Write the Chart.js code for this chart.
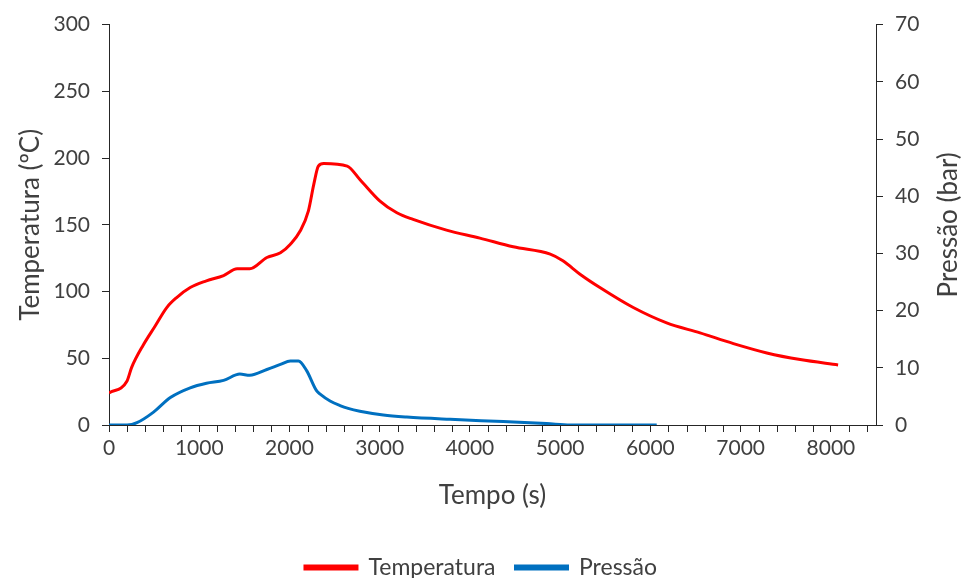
<!DOCTYPE html>
<html>
<head>
<meta charset="utf-8">
<script src="https://cdn.jsdelivr.net/npm/chart.js@4.4.1/dist/chart.umd.min.js"></script>
<style>
  html, body { margin: 0; padding: 0; background: #fff; }
  #wrap { width: 962px; height: 578px; }
</style>
</head>
<body>
<div id="wrap"><canvas id="chart"></canvas></div>
<script>
// tempo (s) e temperatura (ºC)
const tempoT = [0, 200, 250, 380, 510, 640, 750, 900, 1080, 1270, 1420, 1560, 1750, 1900, 2010, 2120, 2210, 2270, 2320, 2380, 2640, 2780, 3000, 3190, 3370, 3740, 4110, 4480, 4890, 5030, 5220, 5440, 5810, 6180, 6550, 6920, 7290, 7660, 8080];
const temperatura = [24, 33, 43, 60, 74, 88, 95.5, 103, 108, 112, 117, 117, 125.5, 129, 135.5, 145.5, 160.5, 180.5, 194, 196, 194, 184, 168, 159, 154, 146, 140, 133.5, 128, 123, 113, 103, 88, 76.5, 69, 61, 54, 49, 45];

// tempo (s) e pressão (bar)
const tempoP = [0, 200, 310, 490, 680, 900, 1080, 1270, 1450, 1560, 1750, 1900, 2010, 2100, 2190, 2300, 2340, 2450, 2560, 2650, 2780, 3040, 3300, 3780, 4370, 4850, 5110, 6070];
const pressao = [0, 0, 0.4, 2.2, 4.8, 6.5, 7.3, 7.8, 8.9, 8.7, 9.7, 10.6, 11.2, 11.2, 9.5, 6.0, 5.4, 4.2, 3.4, 2.9, 2.4, 1.75, 1.4, 1.0, 0.6, 0.25, 0, 0];

const xTicks = [0, 1000, 2000, 3000, 4000, 5000, 6000, 7000, 8000];
const tempTicks = [0, 50, 100, 150, 200, 250, 300];
const presTicks = [0, 10, 20, 30, 40, 50, 60, 70];

const FONT = "Lato, 'Noto Sans', sans-serif";
const TXT = "#404040";
const AXIS = "#262626";
const TICK_SIZE = 21;
const TITLE_SIZE = 26;

const toPoints = (xs, ys) => xs.map((x, i) => ({ x: x, y: ys[i] }));

// minor ticks on the x axis + right-hand title (reads bottom to top)
const extras = {
  id: "extras",
  afterDraw(chart) {
    const ctx = chart.ctx;
    const x = chart.scales.x;
    ctx.save();
    ctx.strokeStyle = AXIS;
    ctx.lineWidth = 1;
    for (let v = 200; v < x.max; v += 200) {
      if (v % 1000 === 0) continue;
      const px = Math.round(x.getPixelForValue(v)) + 0.5;
      ctx.beginPath();
      ctx.moveTo(px, x.top);
      ctx.lineTo(px, x.top + 7);
      ctx.stroke();
    }
    const y2 = chart.scales.y2;
    ctx.fillStyle = TXT;
    ctx.font = TITLE_SIZE + "px " + FONT;
    ctx.textAlign = "center";
    ctx.textBaseline = "middle";
    ctx.translate(949, (y2.top + y2.bottom) / 2);
    ctx.rotate(-Math.PI / 2);
    ctx.fillText("Pressão (bar)", 0, 0);
    ctx.restore();
  }
};

new Chart(document.getElementById("chart"), {
  type: "line",
  data: {
    datasets: [
      {
        label: "Temperatura",
        data: toPoints(tempoT, temperatura),
        borderColor: "#FF0000",
        backgroundColor: "#FF0000",
        borderWidth: 3,
        pointRadius: 0,
        cubicInterpolationMode: "monotone",
        yAxisID: "y"
      },
      {
        label: "Pressão",
        data: toPoints(tempoP, pressao),
        borderColor: "#0070C0",
        backgroundColor: "#0070C0",
        borderWidth: 3,
        pointRadius: 0,
        cubicInterpolationMode: "monotone",
        yAxisID: "y2"
      }
    ]
  },
  options: {
    responsive: true,
    maintainAspectRatio: false,
    animation: false,
    layout: { padding: { top: 24, right: 0, bottom: -11, left: 0 } },
    scales: {
      x: {
        type: "linear",
        min: 0,
        max: 8500,
        afterBuildTicks: s => { s.ticks = xTicks.map(v => ({ value: v })); },
        afterFit: s => { s.height = 111; },
        grid: { drawOnChartArea: false, tickLength: 7, color: AXIS },
        border: { color: AXIS, width: 1 },
        ticks: { color: TXT, font: { family: FONT, size: TICK_SIZE }, padding: 4, maxRotation: 0, callback: v => String(v) },
        title: { display: true, text: "Tempo (s)", color: TXT, font: { family: FONT, size: TITLE_SIZE }, padding: { top: 0, bottom: 25 } }
      },
      y: {
        position: "left",
        min: 0,
        max: 300,
        afterBuildTicks: s => { s.ticks = tempTicks.map(v => ({ value: v })); },
        afterFit: s => { s.width = 109; },
        grid: { drawOnChartArea: false, tickLength: 7, color: AXIS },
        border: { color: AXIS, width: 1 },
        ticks: { color: TXT, font: { family: FONT, size: TICK_SIZE }, padding: 12 },
        title: { display: true, text: "Temperatura (ºC)", color: TXT, font: { family: FONT, size: TITLE_SIZE }, padding: { top: 15, bottom: 0 } }
      },
      y2: {
        position: "right",
        min: 0,
        max: 70,
        afterBuildTicks: s => { s.ticks = presTicks.map(v => ({ value: v })); },
        afterFit: s => { s.width = 86; },
        grid: { drawOnChartArea: false, tickLength: 7, color: AXIS },
        border: { color: AXIS, width: 1 },
        ticks: { color: TXT, font: { family: FONT, size: TICK_SIZE }, padding: 12 }
      }
    },
    plugins: {
      legend: {
        position: "bottom",
        labels: {
          color: TXT,
          font: { family: FONT, size: 23 },
          boxWidth: 52,
          boxHeight: 3,
          padding: 20
        }
      },
      tooltip: { enabled: false }
    }
  },
  plugins: [extras]
});
</script>
</body>
</html>
